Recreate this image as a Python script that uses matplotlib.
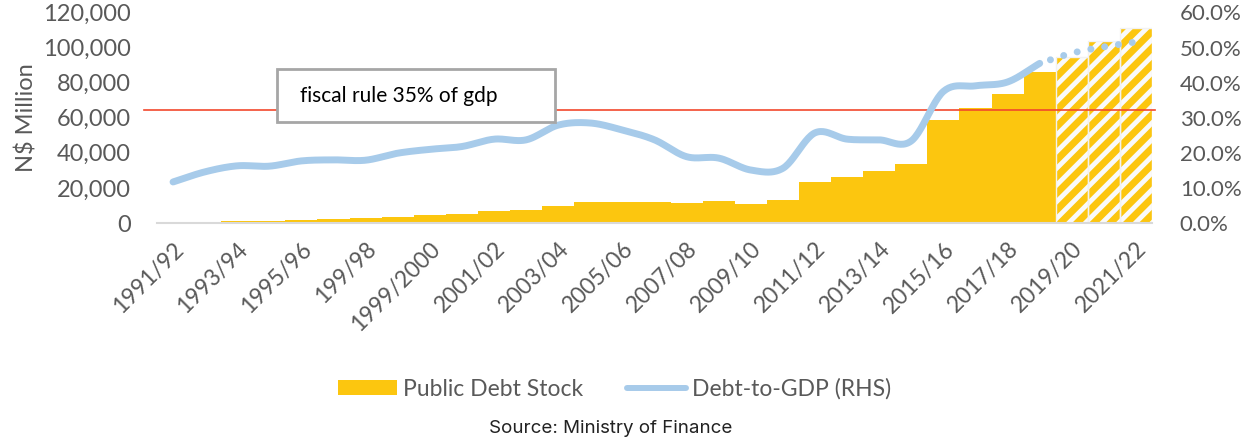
import numpy as np
import matplotlib.pyplot as plt
import matplotlib.transforms as mtransforms
from matplotlib.patches import Rectangle, Patch
from matplotlib.lines import Line2D

# ------------------------------------------------------------
# Datos
# ------------------------------------------------------------
years = [
    "1991/92", "1992/93", "1993/94", "1994/95", "1995/96", "1996/97",
    "199/98", "1998/99", "1999/2000", "2000/01", "2001/02", "2002/03",
    "2003/04", "2004/05", "2005/06", "2006/07", "2007/08", "2008/09",
    "2009/10", "2010/11", "2011/12", "2012/13", "2013/14", "2014/15",
    "2015/16", "2016/17", "2017/18", "2018/19", "2019/20", "2020/21",
    "2021/22",
]

# N$ millones
debt_stock = [
    500, 700, 1000, 1300, 1700, 2100, 2600, 3300, 4400, 5200,
    6700, 7400, 9800, 11700, 11800, 12100, 11300, 12500, 11100, 12900,
    23500, 26400, 29600, 33800, 58700, 65600, 73400, 85900,
    94800, 103800, 111000,
]

# % del PIB (los tres últimos son proyecciones)
debt_to_gdp = [
    11.7, 14.6, 16.3, 16.2, 17.7, 18.0, 17.9, 19.9, 21.0, 21.8,
    23.9, 23.7, 27.9, 28.5, 26.5, 23.7, 18.9, 18.5, 15.1, 15.6,
    25.7, 23.9, 23.7, 23.4, 37.5, 39.1, 40.2, 45.5,
    48.4, 50.2, 51.6,
]

n_actual = 28          # años observados; el resto proyectado
rule_line_pct = 32.2   # altura a la que aparece la línea roja

YELLOW = "#FCC60F"
BLUE = "#A7CBEA"
RED = "#F2482C"
GREY = "#595959"

plt.rcParams["font.family"] = ["Lato", "DejaVu Sans"]
plt.rcParams["hatch.linewidth"] = 5.0


def smooth(xs, ys, n=24):
    # curva Catmull-Rom, como la línea suavizada de Excel
    xs = np.asarray(xs, float)
    ys = np.asarray(ys, float)
    px = np.concatenate([[2 * xs[0] - xs[1]], xs, [2 * xs[-1] - xs[-2]]])
    py = np.concatenate([[2 * ys[0] - ys[1]], ys, [2 * ys[-1] - ys[-2]]])
    outx, outy = [], []
    for i in range(1, len(px) - 2):
        t = np.linspace(0, 1, n, endpoint=False)
        for p, out in ((px, outx), (py, outy)):
            p0, p1, p2, p3 = p[i - 1], p[i], p[i + 1], p[i + 2]
            out.extend(0.5 * (2 * p1 + (-p0 + p2) * t
                              + (2 * p0 - 5 * p1 + 4 * p2 - p3) * t ** 2
                              + (-p0 + 3 * p1 - 3 * p2 + p3) * t ** 3))
    outx.append(xs[-1])
    outy.append(ys[-1])
    return np.array(outx), np.array(outy)


# ------------------------------------------------------------
# Figura
# ------------------------------------------------------------
fig = plt.figure(figsize=(12.54, 4.41), dpi=100)
ax = fig.add_axes([0.1252, 0.4943, 0.7935, 0.4774])
ax2 = ax.twinx()

x = np.arange(len(years))

ax.bar(x[:n_actual], debt_stock[:n_actual], width=1.0,
       color=YELLOW, linewidth=0, zorder=2)
ax.bar(x[n_actual:], debt_stock[n_actual:], width=1.0,
       facecolor="#FAFAFA", edgecolor=YELLOW, hatch="//", linewidth=0, zorder=2)
ax.bar(x[n_actual:], debt_stock[n_actual:], width=1.0,
       fill=False, edgecolor="#F2F2F2", linewidth=1.0, zorder=2)

ax.set_xlim(-0.5, len(years) - 0.5)
ax.set_ylim(0, 120000)
ax.set_yticks(range(0, 120001, 20000))
ax.set_yticklabels([f"{v:,}" for v in range(0, 120001, 20000)])
ax.set_ylabel("N$ Million", fontsize=17, color=GREY, labelpad=4)

ax.set_xticks(x[::2])
ax.set_xticklabels(years[::2], rotation=45, ha="right",
                   rotation_mode="anchor")
shift = mtransforms.ScaledTranslation(8 / 100, 0, fig.dpi_scale_trans)
for lab in ax.get_xticklabels():
    lab.set_transform(lab.get_transform() + shift)

ax2.set_ylim(0, 60)
ax2.set_yticks(range(0, 61, 10))
ax2.set_yticklabels([f"{v:.1f}%" for v in range(0, 61, 10)])

for a in (ax, ax2):
    for s in a.spines.values():
        s.set_visible(False)
ax.spines["bottom"].set_visible(True)
ax.spines["bottom"].set_color("#D9D9D9")
ax.spines["bottom"].set_linewidth(1.5)

ax.tick_params(axis="y", length=0, pad=19, labelsize=17, labelcolor=GREY)
ax.tick_params(axis="x", length=0, pad=11, labelsize=16.5, labelcolor=GREY)
ax2.tick_params(axis="y", length=0, pad=20, labelsize=16, labelcolor=GREY)

# línea roja de la regla fiscal
ax2.axhline(rule_line_pct, xmin=-0.013, xmax=1.003, color=RED,
            linewidth=1.2, zorder=3, clip_on=False)

# deuda / PIB
sx, sy = smooth(x[:n_actual], debt_to_gdp[:n_actual])
ax2.plot(sx, sy, color=BLUE, linewidth=5, solid_capstyle="round", zorder=4)
px, py = smooth(x[n_actual - 1:], debt_to_gdp[n_actual - 1:])
ax2.plot(px[8:], py[8:], color=BLUE, linewidth=5, linestyle=(0, (0.01, 2.0)),
         dash_capstyle="round", zorder=4)

# recuadro del texto
ax2.add_patch(Rectangle((0.1206, 0.48), 0.2794, 0.2516, transform=ax2.transAxes,
                        facecolor="white", edgecolor="#A6A6A6", linewidth=2,
                        zorder=5))
ax2.text(0.1437, 0.603, "fiscal rule 35% of gdp", transform=ax2.transAxes,
         fontsize=15, color="black", va="center", ha="left", zorder=6)

# leyenda
handles = [
    Patch(facecolor=YELLOW, edgecolor="none"),
    Line2D([0], [0], color=BLUE, linewidth=4.3, solid_capstyle="round"),
]
fig.legend(handles, ["Public Debt Stock", "Debt-to-GDP (RHS)"],
           loc="center", bbox_to_anchor=(0.49, 0.118), ncol=2, frameon=False,
           fontsize=16.5, labelcolor=GREY, handlelength=2.6, handleheight=0.6,
           handletextpad=0.25, columnspacing=1.9)

fig.text(0.487, 0.029, "Source: Ministry of Finance", ha="center",
         va="center", fontsize=13.5, color="#222222", family=["Inter", "DejaVu Sans"])

fig.savefig("out.png", dpi=100)
